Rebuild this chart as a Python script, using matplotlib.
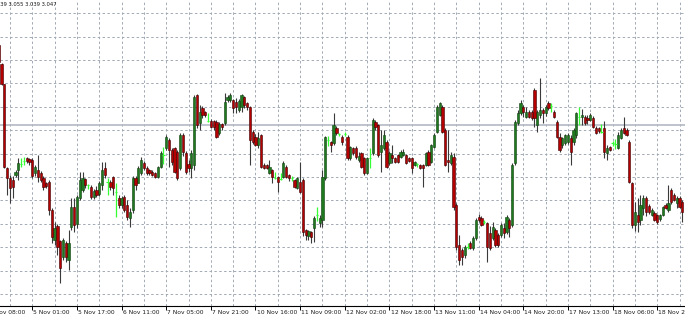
import numpy as np
import matplotlib
matplotlib.use('Agg')
import matplotlib.pyplot as plt

# Hourly bars, prices given in 0.001 above 3.000
opens = [215, 196, 176, 92, 82, 80, 85, 90, 96, 99,
         102, 101, 100, 87, 90, 87, 82, 77, 78, 50,
         20, 34, 19, 3, 17, 0, 33, 53, 36, 62,
         70, 81, 75, 73, 63, 70, 66, 75, 92, 78,
         78, 83, 68, 62, 55, 63, 55, 42, 50, 82,
         77, 87, 97, 92, 90, 88, 87, 83, 93, 105,
         112, 120, 110, 112, 108, 92, 125, 107, 96, 92,
         95, 165, 137, 152, 148, 139, 139, 139, 138, 127,
         136, 137, 160, 160, 160, 158, 150, 153, 163, 157,
         153, 128, 123, 115, 125, 95, 95, 87, 90, 82,
         83, 81, 83, 93, 85, 82, 80, 72, 78, 80,
         30, 24, 28, 32, 45, 37, 40, 82, 120, 118,
         117, 132, 126, 123, 126, 123, 102, 112, 112, 100,
         107, 102, 87, 102, 107, 138, 135, 108, 112, 118,
         97, 105, 102, 105, 103, 105, 105, 102, 102, 95,
         96, 95, 95, 95, 108, 98, 113, 128, 145, 153,
         130, 100, 97, 103, 55, 15, 10, 5, 13, 17,
         12, 22, 43, 42, 38, 37, 27, 22, 30, 25,
         25, 32, 28, 40, 35, 97, 137, 147, 153, 143,
         148, 148, 170, 135, 145, 150, 147, 157, 154, 148,
         138, 123, 115, 117, 118, 122, 118, 125, 143, 143,
         143, 142, 140, 142, 132, 132, 128, 132, 107, 113,
         117, 116, 112, 122, 132, 130, 118, 77, 35, 45,
         40, 52, 62, 54, 45, 47, 45, 41, 45, 55,
         50, 70, 65, 57, 62, 58]
highs = [217, 197, 176, 93, 85, 84, 90, 102, 102, 103,
         103, 102, 102, 95, 105, 89, 84, 78, 80, 52,
         38, 36, 20, 22, 19, 30, 62, 62, 65, 88,
         88, 82, 76, 75, 71, 74, 79, 98, 98, 82,
         80, 84, 77, 65, 64, 65, 60, 52, 84, 84,
         94, 103, 99, 94, 91, 90, 88, 94, 109, 113,
         125, 122, 112, 113, 110, 127, 127, 109, 100, 110,
         165, 166, 155, 154, 149, 147, 141, 140, 140, 138,
         137, 167, 165, 167, 161, 162, 161, 166, 164, 158,
         154, 130, 126, 128, 126, 97, 96, 100, 91, 88,
         84, 87, 99, 95, 86, 84, 81, 83, 98, 82,
         31, 30, 29, 44, 53, 45, 90, 124, 124, 119,
         147, 134, 127, 125, 128, 125, 114, 113, 114, 108,
         108, 103, 103, 112, 142, 140, 136, 130, 130, 120,
         109, 115, 103, 106, 110, 111, 106, 103, 103, 99,
         97, 96, 96, 108, 110, 116, 127, 155, 158, 155,
         132, 130, 108, 107, 57, 25, 12, 15, 17, 19,
         24, 42, 46, 44, 40, 38, 34, 38, 32, 27,
         37, 37, 45, 42, 97, 140, 150, 160, 155, 153,
         150, 150, 172, 150, 182, 152, 155, 159, 157, 150,
         140, 127, 123, 126, 127, 125, 132, 148, 153, 151,
         145, 145, 147, 144, 134, 133, 136, 139, 115, 114,
         119, 121, 128, 132, 143, 132, 120, 78, 58, 62,
         65, 65, 64, 56, 52, 49, 46, 46, 54, 57,
         75, 72, 67, 64, 64, 60]
lows = [197, 175, 92, 65, 57, 62, 83, 80, 93, 95,
        97, 95, 82, 84, 78, 78, 70, 72, 45, 17,
        15, 5, -23, 0, -2, -10, 30, 28, 32, 60,
        68, 72, 71, 61, 61, 63, 64, 70, 82, 65,
        70, 65, 43, 52, 52, 48, 40, 33, 47, 70,
        77, 85, 90, 85, 85, 84, 82, 82, 92, 96,
        110, 93, 95, 87, 80, 90, 104, 86, 88, 82,
        90, 132, 130, 142, 143, 138, 132, 130, 122, 125,
        130, 135, 158, 158, 147, 147, 148, 148, 152, 150,
        95, 116, 114, 112, 92, 91, 91, 86, 77, 81,
        68, 80, 82, 82, 79, 79, 72, 71, 67, 24,
        20, 20, 17, 18, 39, 33, 33, 80, 114, 108,
        115, 125, 124, 115, 124, 100, 100, 105, 101, 98,
        92, 85, 86, 92, 105, 130, 103, 88, 110, 92,
        95, 97, 97, 97, 102, 104, 96, 98, 87, 94,
        93, 91, 73, 94, 94, 97, 112, 127, 144, 127,
        94, 88, 95, 50, 10, -5, -5, 2, 11, 11,
        10, 20, 38, 34, 36, -2, 10, 20, 13, 13,
        23, 22, 26, 23, 33, 95, 135, 145, 143, 142,
        142, 140, 133, 128, 142, 137, 144, 150, 148, 142,
        122, 108, 112, 115, 116, 95, 115, 122, 135, 135,
        135, 136, 139, 132, 126, 127, 127, 102, 100, 109,
        114, 111, 111, 121, 126, 124, 77, 32, 29, 28,
        35, 45, 44, 46, 44, 39, 36, 39, 44, 51,
        48, 56, 59, 52, 52, 38]
closes = [198, 176, 93, 82, 72, 73, 88, 97, 97, 100,
          99, 98, 84, 93, 83, 80, 73, 74, 50, 23,
          32, 13, -8, 20, 3, 17, 53, 35, 63, 80,
          82, 75, 74, 63, 69, 65, 77, 90, 85, 77,
          73, 72, 69, 55, 62, 50, 43, 48, 82, 75,
          92, 100, 92, 87, 87, 85, 83, 93, 107, 106,
          123, 110, 98, 88, 82, 125, 108, 88, 92, 107,
          163, 135, 148, 145, 145, 140, 133, 133, 123, 136,
          133, 158, 163, 165, 152, 153, 159, 165, 155, 153,
          120, 118, 115, 122, 93, 92, 92, 93, 83, 83,
          78, 82, 97, 83, 82, 83, 73, 82, 68, 28,
          25, 29, 23, 42, 46, 42, 83, 123, 119, 115,
          135, 127, 125, 118, 127, 102, 113, 107, 103, 104,
          93, 87, 102, 103, 140, 133, 105, 115, 125, 93,
          107, 102, 98, 98, 108, 108, 97, 99, 92, 98,
          95, 92, 92, 107, 95, 115, 125, 153, 157, 128,
          95, 98, 105, 53, 13, 0, 3, 13, 14, 12,
          22, 40, 40, 35, 39, 13, 12, 33, 15, 15,
          35, 27, 43, 32, 95, 138, 147, 157, 148, 148,
          143, 142, 142, 148, 150, 147, 153, 152, 155, 143,
          123, 110, 122, 125, 125, 108, 130, 147, 144, 145,
          137, 140, 145, 133, 127, 129, 129, 108, 112, 110,
          116, 117, 125, 130, 127, 125, 78, 35, 48, 38,
          55, 62, 48, 48, 50, 40, 38, 45, 53, 52,
          57, 58, 60, 62, 53, 48]

time_labels = ["4 Nov 08:00", "5 Nov 01:00", "5 Nov 17:00", "6 Nov 11:00",
               "7 Nov 05:00", "7 Nov 21:00", "10 Nov 16:00", "11 Nov 09:00",
               "12 Nov 02:00", "12 Nov 18:00", "13 Nov 11:00", "14 Nov 04:00",
               "14 Nov 20:00", "17 Nov 13:00", "18 Nov 06:00", "18 Nov 22:00"]
label_bars = [-4, 12, 28, 44, 60, 76, 92, 108, 124, 140, 156, 172, 188, 204, 220, 236]

header = "3.039 3.055 3.039 3.047"
level_line = 3.135


def to_price(pts):
    return 3.0 + np.array(pts, dtype=float) / 1000.0


o = to_price(opens)
h = to_price(highs)
l = to_price(lows)
c = to_price(closes)
x = np.arange(len(o))

doji = np.abs(c - o) <= 0.0011
bull = (c > o) & ~doji
bear = (c < o) & ~doji

fig = plt.figure(figsize=(6.85, 3.2), dpi=100)
fig.patch.set_facecolor('white')
ax = fig.add_axes([0, 14 / 320, 1, 306 / 320])

# grid
for gx in np.arange(4, 250, 8):
    ax.axvline(gx, color='#a2aab5', lw=0.7, ls=(0, (2.5, 2.5)), zorder=1)
for gy in 3.2467 - 0.0234 * np.arange(13):
    ax.axhline(gy, color='#a2aab5', lw=0.7, ls=(0, (2.5, 2.5)), zorder=1)
ax.axhline(level_line, color='#b4b9c2', lw=1.2, zorder=1.5)

# candles
ax.vlines(x[~doji], l[~doji], h[~doji], color='#3a3a3a', lw=0.8, zorder=2)
ax.bar(x[bull], (c - o)[bull], bottom=o[bull], width=0.8,
       color='#1f7a1f', edgecolor='#0e3e0e', lw=0.4, zorder=3)
ax.bar(x[bear], (o - c)[bear], bottom=c[bear], width=0.8,
       color='#b40000', edgecolor='#3c0000', lw=0.4, zorder=3)
ax.vlines(x[doji], l[doji], h[doji], color='#33ff33', lw=0.9, zorder=3)
ax.hlines(o[doji], x[doji] - 0.4, x[doji] + 0.4, color='#33ff33', lw=0.8, zorder=3)

ax.set_xlim(0.43, 245.95)
ax.set_ylim(2.954, 3.260)

for s in ['top', 'left', 'right']:
    ax.spines[s].set_visible(False)
ax.spines['bottom'].set_color('black')
ax.spines['bottom'].set_linewidth(0.8)
ax.set_yticks([])
ax.set_xticks([b for b in label_bars if b > 0])
ax.tick_params(axis='x', length=3, width=0.7, color='black', labelbottom=False)

for b, lab in zip(label_bars, time_labels):
    ax.annotate(lab, xy=(b, 0), xycoords=('data', 'axes fraction'),
                xytext=(0.8, -5), textcoords='offset points',
                ha='left', va='center', fontsize=4.3, color='#1a1a1a',
                annotation_clip=False)

fig.text(-8.4 / 685, 1 - 5 / 320, header, ha='left', va='center',
         fontsize=3.8, color='#1a1a1a')

fig.savefig('out.png', dpi=100, facecolor='white')
